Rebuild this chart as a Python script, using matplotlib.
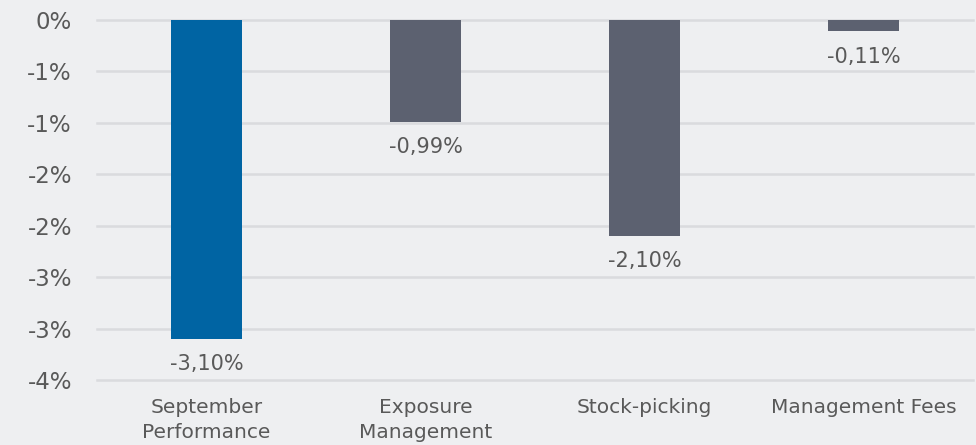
import matplotlib
matplotlib.use("Agg")
import matplotlib.pyplot as plt

categories = ["September\nPerformance", "Exposure\nManagement", "Stock-picking", "Management Fees"]
values = [-3.10, -0.99, -2.10, -0.11]
value_labels = ["-3,10%", "-0,99%", "-2,10%", "-0,11%"]
bar_colors = ["#0064a3", "#5c6170", "#5c6170", "#5c6170"]
yticks = [0, -0.5, -1.0, -1.5, -2.0, -2.5, -3.0, -3.5]
ytick_labels = ["0%", "-1%", "-1%", "-2%", "-2%", "-3%", "-3%", "-4%"]

bg = "#eeeff1"
txt = "#595959"

fig = plt.figure(figsize=(9.76, 4.45), dpi=100, facecolor=bg)
ax = fig.add_axes([97/976, 1 - 380/445, (973-97)/976, (380-20)/445], facecolor=bg)

x = list(range(len(categories)))
ax.bar(x, values, width=0.325, color=bar_colors, zorder=3)
for xi, v, lab in zip(x, values, value_labels):
    ax.annotate(lab, (xi, v), xytext=(0, -11), textcoords="offset points",
                ha="center", va="top", fontsize=15, color=txt)

ax.set_xlim(-0.5, len(categories) - 0.5)
ax.set_ylim(-3.5, 0)
ax.set_yticks(yticks)
ax.set_yticklabels(ytick_labels, fontsize=16.5, color=txt)
ax.set_xticks(x)
ax.set_xticklabels(categories, fontsize=14.5, color=txt, linespacing=1.4)
ax.tick_params(axis="both", length=0)
ax.tick_params(axis="y", pad=18)
ax.tick_params(axis="x", pad=13)
ax.grid(axis="y", color="#dadbde", linewidth=1.8, zorder=0)
for gl in ax.get_ygridlines():
    gl.set_clip_on(False)
for s in ax.spines.values():
    s.set_visible(False)

fig.savefig("out.png", dpi=100, facecolor=bg)
